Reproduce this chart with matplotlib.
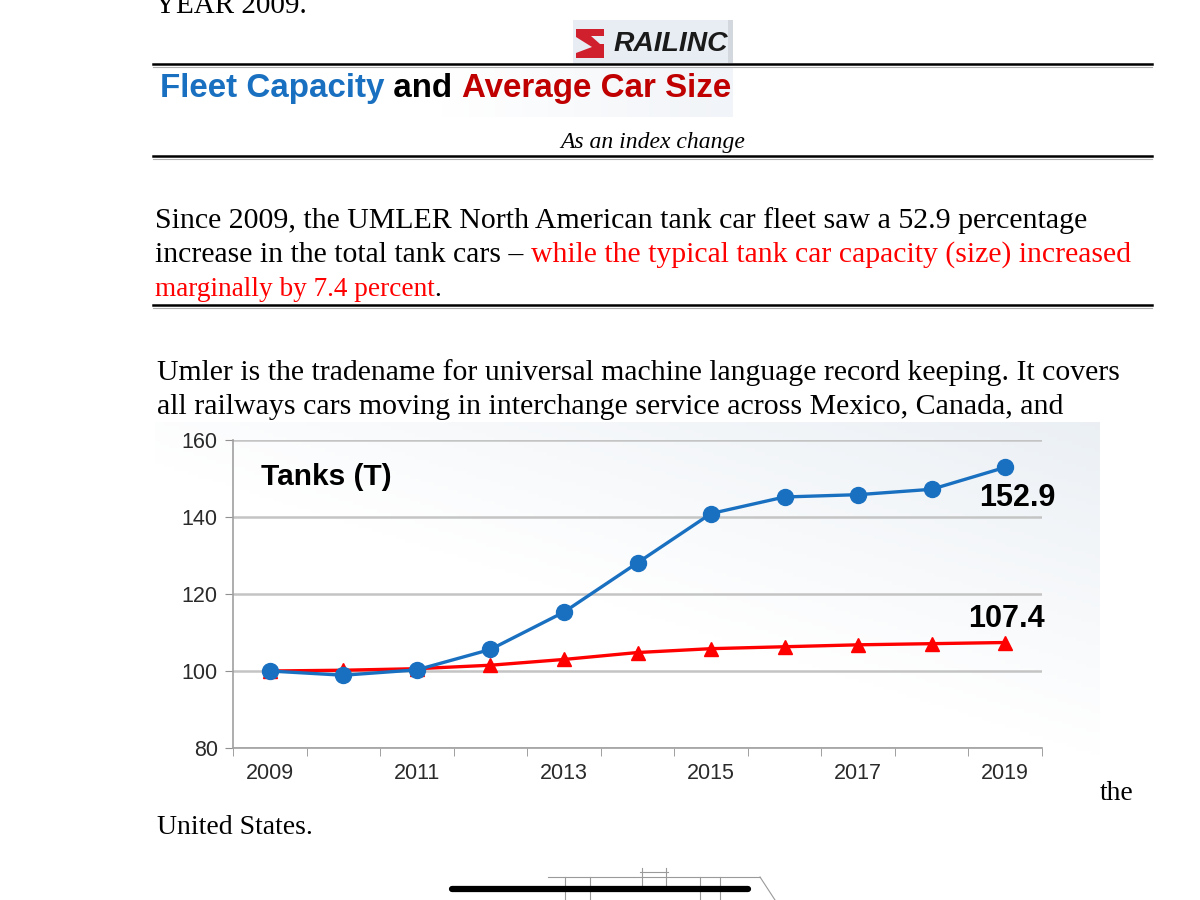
import numpy as np
import matplotlib
matplotlib.use("Agg")
import matplotlib.pyplot as plt
from matplotlib.transforms import Affine2D
from matplotlib.patches import Rectangle, Polygon

# data (index, 2009 = 100)
years = [2009, 2010, 2011, 2012, 2013, 2014, 2015, 2016, 2017, 2018, 2019]
tanks = [100.0, 98.9, 100.3, 105.6, 115.3, 128.1, 140.9, 145.2, 145.8, 147.2, 152.9]
car_size = [100.0, 100.2, 100.6, 101.5, 103.0, 104.8, 105.8, 106.3, 106.8, 107.1, 107.4]
y_ticks = [80, 100, 120, 140, 160]
x_labels = ["2009", "", "2011", "", "2013", "", "2015", "", "2017", "", "2019"]

W, H = 1200, 900
fig = plt.figure(figsize=(12, 9), dpi=100)
fig.patch.set_facecolor("white")
px = Affine2D().scale(1, -1).translate(0, H)   # pixel coords, origin top-left
rend = fig.canvas.get_renderer()

SERIF = ["Liberation Serif", "DejaVu Serif"]
SANS = ["Liberation Sans", "DejaVu Sans"]


def row(x, y, parts, width=None, **kw):
    # draw text pieces next to each other, optionally scaled to a target width
    fs = kw.pop("fontsize")
    for attempt in range(2):
        arts = []
        cx = x
        for s, c in parts:
            t = fig.text(cx, y, s, color=c, transform=px, fontsize=fs,
                         va="baseline", ha="left", **kw)
            cx += t.get_window_extent(rend).width
            arts.append(t)
        total = cx - x
        if width is None or attempt == 1:
            return arts
        for t in arts:
            t.remove()
        fs = fs * width / total


def hrule(y, x0=153, x1=1152):
    fig.add_artist(plt.Line2D([x0, x1], [y, y], transform=px, color="black", lw=1.8))
    fig.add_artist(plt.Line2D([x0, x1], [y + 2.5, y + 2.5], transform=px, color="#b0b0b0", lw=0.8))


# top of page (cut off by the screenshot edge, as in the original)
row(155, 13, [("YEAR 2009.", "black")], family=SERIF, fontsize=21)

# logo
fig.add_artist(Rectangle((573, 20), 160, 43, transform=px, facecolor="#e8edf3", edgecolor="none"))
fig.add_artist(Rectangle((728, 20), 5, 43, transform=px, facecolor="#d3d8df", edgecolor="none"))
fig.add_artist(Polygon([(576, 29), (604, 29), (604, 36), (591, 36), (600, 44), (604, 44),
                        (604, 58), (576, 58), (576, 53), (592, 47), (576, 37)],
                       closed=True, transform=px, facecolor="#d0202e", edgecolor="none"))
row(613, 51, [("RAILINC", "#1a1a1a")], width=115, family=SANS, fontsize=16,
    fontweight="bold", fontstyle="italic")

hrule(64)

# title banner
banner = np.linspace(0, 1, 256).reshape(1, -1)
bax = fig.add_axes([153 / W, 1 - 117 / H, (733 - 153) / W, (117 - 68) / H])
bax.imshow(banner, aspect="auto", cmap=matplotlib.colors.LinearSegmentedColormap.from_list(
    "b", ["#ffffff", "#ffffff", "#f1f4f8"]), extent=[0, 1, 0, 1])
bax.set_axis_off()
row(160, 97, [("Fleet Capacity", "#1a70c0"), (" and ", "black"), ("Average Car Size", "#c00000")],
    width=570, family=SANS, fontsize=22, fontweight="bold")

fig.text(653, 148, "As an index change", transform=px, family=SERIF, fontsize=17,
         fontstyle="italic", ha="center", va="baseline")
hrule(156)

# first paragraph
red = "#ff0000"
row(155, 228, [("Since 2009, the UMLER North American tank car fleet saw a 52.9 percentage", "black")],
    width=933, family=SERIF, fontsize=20)
row(155, 262, [("increase in the total tank cars \u2013 ", "black"),
               ("while the typical tank car capacity (size) increased", red)],
    width=979, family=SERIF, fontsize=20)
row(155, 296, [("marginally by 7.4 percent", red), (".", "black")], family=SERIF, fontsize=19.6)
hrule(305)

# second paragraph
row(157, 380, [("Umler is the tradename for universal machine language record keeping. It covers", "black")],
    width=966, family=SERIF, fontsize=20)
row(157, 414, [("all railways cars moving in interchange service across Mexico, Canada, and", "black")],
    width=906, family=SERIF, fontsize=20)

# chart background (faint blue tint toward the top right)
gx, gy = np.meshgrid(np.linspace(0, 1, 200), np.linspace(1, 0, 100))
shade = np.clip(0.7 * gx + 0.9 * gy - 0.8, 0, 1)
gax = fig.add_axes([155 / W, 1 - 800 / H, (1100 - 155) / W, (800 - 422) / H], zorder=0)
gax.imshow(shade, aspect="auto", cmap=matplotlib.colors.LinearSegmentedColormap.from_list(
    "g", ["#ffffff", "#e6ecf2"]), extent=[0, 1, 0, 1], vmin=0, vmax=1)
gax.set_axis_off()

# chart
ax = fig.add_axes([233 / W, 1 - 748 / H, (1042 - 233) / W, (748 - 440) / H], zorder=1)
ax.patch.set_alpha(0)
x = np.arange(len(years))
ax.plot(x, car_size, color="#ff0000", lw=2.4, marker="^", ms=10.5, zorder=3)
ax.plot(x, tanks, color="#1a70c0", lw=2.4, marker="o", ms=11.5, zorder=4)

ax.set_ylim(80, 160)
ax.set_xlim(-0.5, len(years) - 0.5)
ax.set_yticks(y_ticks)
ax.grid(axis="y", color="#c4c4c4", lw=1.8)
ax.set_axisbelow(True)
ax.set_xticks(x)
ax.set_xticklabels(x_labels)
ax.set_xticks(np.arange(-0.5, len(years)), minor=True)
ax.tick_params(axis="x", which="major", length=0, pad=11)
ax.tick_params(axis="x", which="minor", length=6, color="#909090")
ax.tick_params(axis="y", length=6, color="#909090", pad=5)
for lab in ax.get_xticklabels() + ax.get_yticklabels():
    lab.set_family(SANS)
    lab.set_fontsize(15.5)
    lab.set_color("#2a2a2a")
for s in ["top", "right"]:
    ax.spines[s].set_visible(False)
for s in ["left", "bottom"]:
    ax.spines[s].set_color("#a0a0a0")
    ax.spines[s].set_linewidth(1.2)

ax.text(0.034, 0.88, "Tanks (T)", transform=ax.transAxes, family=SANS, fontsize=21.5,
        fontweight="bold", va="center")
ax.annotate(f"{tanks[-1]:.1f}", (x[-1], tanks[-1]), xytext=(9, -22), textcoords="offset points",
            ha="center", va="center", family=SANS, fontsize=22, fontweight="bold")
ax.annotate(f"{car_size[-1]:.1f}", (x[-1], car_size[-1]), xytext=(1, 17), textcoords="offset points",
            ha="center", va="center", family=SANS, fontsize=22, fontweight="bold")

# text after chart
row(1100, 800, [("the", "black")], family=SERIF, fontsize=20)
row(157, 834, [("United States.", "black")], family=SERIF, fontsize=20)

# partial tank car drawing at the bottom
gray = "#9a9a9a"
for seg in [([548, 760], [877, 877]), ([640, 668], [872, 872]), ([642, 642], [868, 890]),
            ([666, 666], [868, 890]), ([565, 565], [877, 900]), ([590, 590], [877, 900]),
            ([700, 700], [877, 900]), ([720, 720], [877, 900]), ([760, 775], [877, 900])]:
    fig.add_artist(plt.Line2D(seg[0], seg[1], transform=px, color=gray, lw=0.8))
fig.add_artist(plt.Line2D([452, 748], [889, 889], transform=px, color="black", lw=4.5,
                          solid_capstyle="round"))

fig.savefig("out.png", dpi=100)
